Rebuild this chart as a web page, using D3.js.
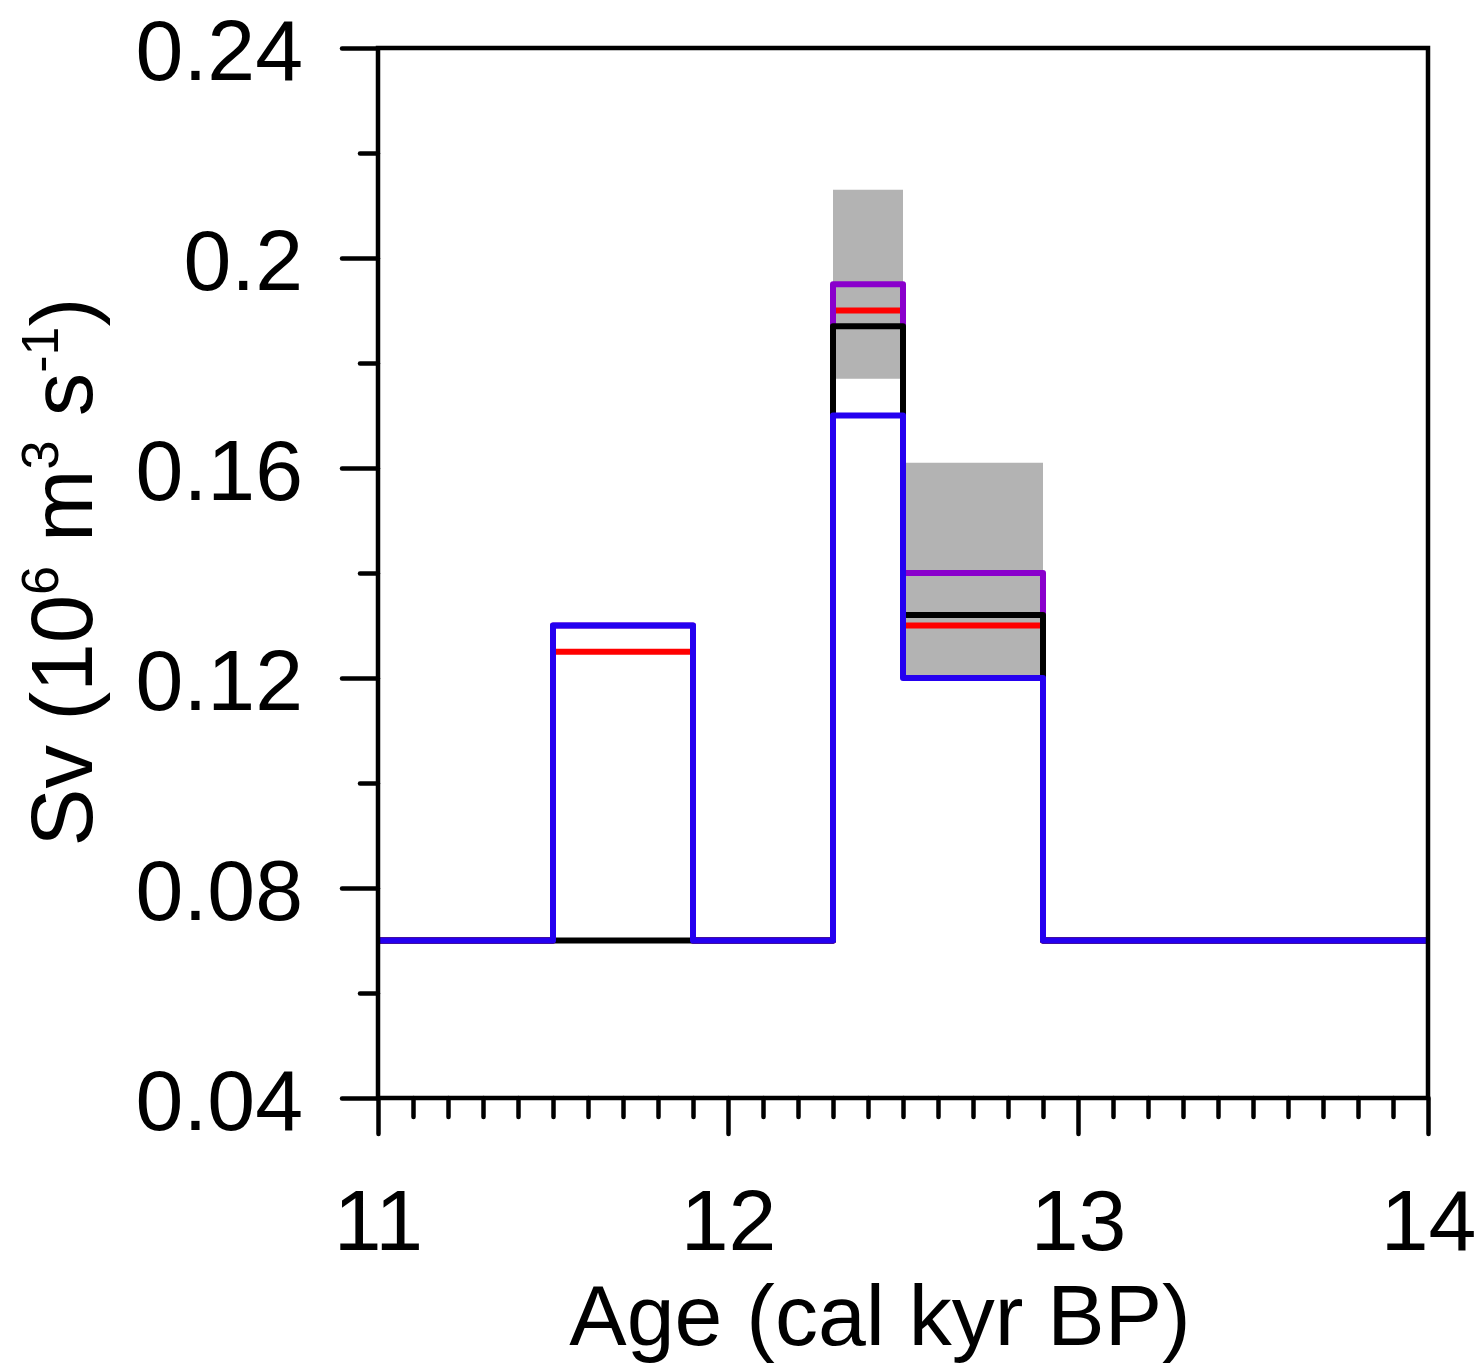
<!DOCTYPE html>
<html>
<head>
<meta charset="utf-8">
<script src="https://cdn.jsdelivr.net/npm/d3@7"></script>
<style>
  body { margin: 0; background: #fff; }
  svg { display: block; font-family: "Liberation Sans", Arial, sans-serif; }
</style>
</head>
<body>
<svg id="chart" width="1479" height="1366"></svg>
<script>
// step edges (cal kyr BP) and values (Sv) for each interval
const edges = [11, 11.5, 11.9, 12.3, 12.5, 12.9, 14]
const redVals = [0.07, 0.125, 0.07, 0.19, 0.13, 0.07]
const purpleVals = [0.07, 0.13, 0.07, 0.195, 0.14, 0.07]
const blackVals = [0.07, 0.07, 0.07, 0.187, 0.132, 0.07]
const blueVals = [0.07, 0.13, 0.07, 0.17, 0.12, 0.07]

// grey uncertainty boxes
const bandStart = [12.3, 12.5]
const bandEnd = [12.5, 12.9]
const bandLo = [0.177, 0.12]
const bandHi = [0.213, 0.161]

const xMajor = [11, 12, 13, 14]
const yMajor = [0.04, 0.08, 0.12, 0.16, 0.2, 0.24]
const yLabels = ['0.04', '0.08', '0.12', '0.16', '0.2', '0.24']

const svg = d3.select('#chart')

const x = d3.scaleLinear().domain([11, 14]).range([378, 1428])
const y = d3.scaleLinear().domain([0.04, 0.24]).range([1098, 48])

// grey boxes
svg.append('g')
    .selectAll('rect')
    .data(bandStart)
    .join('rect')
    .attr('x', (d, i) => x(d))
    .attr('width', (d, i) => x(bandEnd[i]) - x(d))
    .attr('y', (d, i) => y(bandHi[i]))
    .attr('height', (d, i) => y(bandLo[i]) - y(bandHi[i]))
    .attr('fill', '#b3b3b3')

const stepLine = d3.line()
    .x(d => x(d[0]))
    .y(d => y(d[1]))
    .curve(d3.curveStepAfter)

const toPts = vals => edges.map((e, i) => [e, vals[Math.min(i, vals.length - 1)]])

const series = [
    { vals: redVals, color: '#ff0000' },
    { vals: purpleVals, color: '#8a00cc' },
    { vals: blackVals, color: '#000000' },
    { vals: blueVals, color: '#2400f0' }
]

svg.append('g')
    .selectAll('path')
    .data(series)
    .join('path')
    .attr('d', d => stepLine(toPts(d.vals)))
    .attr('fill', 'none')
    .attr('stroke', d => d.color)
    .attr('stroke-width', 6)
    .attr('stroke-linejoin', 'round')

// frame
svg.append('rect')
    .attr('x', x(11)).attr('y', y(0.24))
    .attr('width', x(14) - x(11)).attr('height', y(0.04) - y(0.24))
    .attr('fill', 'none').attr('stroke', '#000').attr('stroke-width', 4.5)

// minor ticks
const yMinor = d3.range(0.06, 0.24, 0.04)
const xMinor = d3.range(11, 14.001, 0.1).filter(v => Math.abs(v - Math.round(v)) > 0.01)

const axisStyle = g => {
    g.select('.domain').remove()
    g.selectAll('line').attr('stroke', '#000').attr('stroke-width', 4.5).attr('stroke-linecap', 'round')
    g.selectAll('text').attr('fill', '#000').style('font-size', '86px')
}

svg.append('g')
    .attr('transform', `translate(${x(11)},0)`)
    .call(d3.axisLeft(y).tickValues(yMinor).tickSize(18).tickFormat(''))
    .call(axisStyle)

svg.append('g')
    .attr('transform', `translate(0,${y(0.04)})`)
    .call(d3.axisBottom(x).tickValues(xMinor).tickSize(19).tickFormat(''))
    .call(axisStyle)

svg.append('g')
    .attr('transform', `translate(${x(11)},0)`)
    .call(d3.axisLeft(y).tickValues(yMajor).tickSize(36).tickPadding(39)
        .tickFormat((d, i) => yLabels[i]))
    .call(axisStyle)
    .call(g => g.selectAll('text').attr('dy', '0.37em'))

svg.append('g')
    .attr('transform', `translate(0,${y(0.04)})`)
    .call(d3.axisBottom(x).tickValues(xMajor).tickSize(36).tickPadding(55)
        .tickFormat(d3.format('d')))
    .call(axisStyle)

// axis titles
svg.append('text')
    .attr('x', 880).attr('y', 1345)
    .attr('text-anchor', 'middle')
    .style('font-size', '86px')
    .text('Age (cal kyr BP)')

const yt = svg.append('text')
    .attr('transform', 'translate(92,572) rotate(-90)')
    .attr('text-anchor', 'middle')
    .style('font-size', '87px')
yt.append('tspan').text('Sv (10')
yt.append('tspan').text('6').attr('dy', -34).style('font-size', '52px')
yt.append('tspan').text(' m').attr('dy', 34)
yt.append('tspan').text('3').attr('dy', -34).style('font-size', '52px')
yt.append('tspan').text(' s').attr('dy', 34)
yt.append('tspan').text('-1').attr('dy', -34).style('font-size', '52px')
yt.append('tspan').text(')').attr('dy', 34)
</script>
</body>
</html>
